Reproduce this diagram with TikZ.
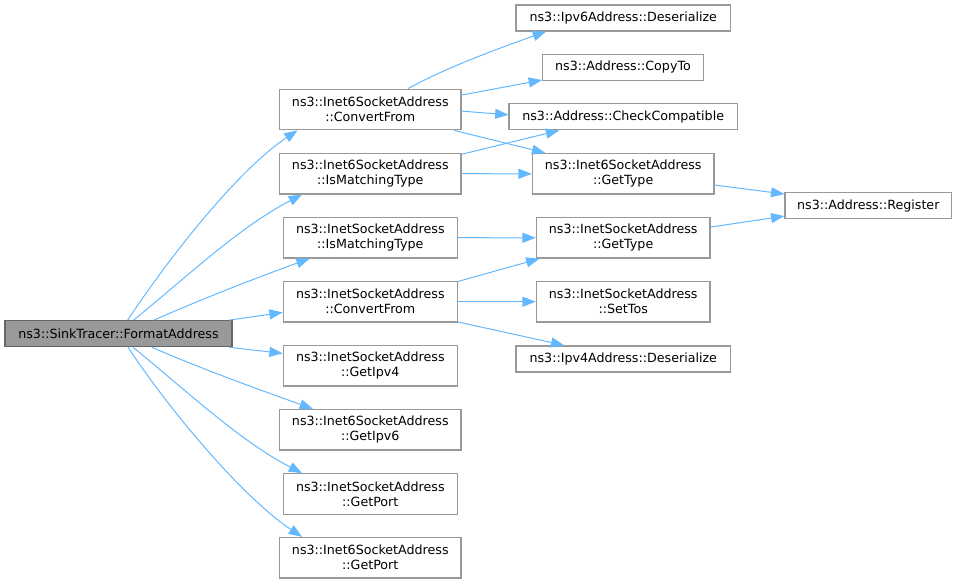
\documentclass[tikz,border=0pt]{standalone}
\usepackage{fontspec}
\setmainfont{DejaVu Sans}
\usetikzlibrary{arrows.meta}
\definecolor{edgeblue}{HTML}{63B8FF}
\definecolor{boxgray}{HTML}{999999}
\definecolor{maingray}{HTML}{999999}
\definecolor{mainborder}{HTML}{666666}
\begin{document}
\begin{tikzpicture}[x=0.75pt,y=-0.75pt,
  box/.style={draw=boxgray, fill=white, line width=0.9pt, inner sep=0pt, align=center,
              font=\fontsize{9.5pt}{11.25pt}\selectfont},
  one/.style={box, minimum height=19.5pt},
  two/.style={box, minimum height=30.4pt},
  mainbox/.style={box, draw=mainborder, fill=maingray, minimum height=19.5pt},
  edge/.style={draw=edgeblue, line width=0.75pt, -{Triangle[length=10pt,width=7.5pt]}}]
\useasboundingbox (0,0) rectangle (957,583);

\node[mainbox, minimum width=170.25pt] (main) at (118.5,333.7) {ns3::SinkTracer::FormatAddress};

\node[two, minimum width=136.1pt] (A1) at (370.3,109.5) {ns3::Inet6SocketAddress\\::ConvertFrom};
\node[two, minimum width=136.1pt] (A2) at (370.3,173.7) {ns3::Inet6SocketAddress\\::IsMatchingType};
\node[two, minimum width=130.5pt] (A3) at (370.3,237.7) {ns3::InetSocketAddress\\::IsMatchingType};
\node[two, minimum width=130.5pt] (A4) at (370.3,301.7) {ns3::InetSocketAddress\\::ConvertFrom};
\node[two, minimum width=130.5pt] (A5) at (370.3,365.7) {ns3::InetSocketAddress\\::GetIpv4};
\node[two, minimum width=136.1pt] (A6) at (370.3,429.8) {ns3::Inet6SocketAddress\\::GetIpv6};
\node[two, minimum width=130.5pt] (A7) at (370.3,494) {ns3::InetSocketAddress\\::GetPort};
\node[two, minimum width=136.1pt] (A8) at (370.3,557.7) {ns3::Inet6SocketAddress\\::GetPort};

\node[one, minimum width=161pt] (B1) at (623.3,17.9) {ns3::Ipv6Address::Deserialize};
\node[one, minimum width=120.5pt] (B2) at (623,67.2) {ns3::Address::CopyTo};
\node[one, minimum width=171.2pt] (B3) at (623.2,116.8) {ns3::Address::CheckCompatible};
\node[two, minimum width=136.3pt] (B4) at (623.2,173.8) {ns3::Inet6SocketAddress\\::GetType};
\node[two, minimum width=130.3pt] (B5) at (623.2,237.8) {ns3::InetSocketAddress\\::GetType};
\node[two, minimum width=130.3pt] (B6) at (623.2,301.7) {ns3::InetSocketAddress\\::SetTos};
\node[one, minimum width=161pt] (B7) at (623.3,359) {ns3::Ipv4Address::Deserialize};
\node[one, minimum width=125pt] (C1) at (868.3,205.8) {ns3::Address::Register};

\draw[edge] (main.56.8) .. controls +(44,-66.4) and +(-58.1,38.5) .. (A1.196.6);
\draw[edge] (main.42.5) .. controls +(54,-44) and +(-62,32) .. (A2.197.2);
\draw[edge] (main.21.4) .. controls +(50,-22) and +(-50,18) .. (A3.199.1);
\draw[edge] (main.7.3) -- (A4.187.6);
\draw[edge] (main.-7.4) -- (A5.172.3);
\draw[edge] (main.-22) .. controls +(50,22) and +(-50,-18) .. (A6.160.9);
\draw[edge] (main.-43.3) .. controls +(54,44) and +(-62,-32) .. (A7.163.2);
\draw[edge] (main.-55.9) .. controls +(44,66.4) and +(-58.1,-38.5) .. (A8.163.9);

\draw[edge] (A1.29.3) .. controls +(40,-22) and +(-45,16) .. (B1.190);
\draw[edge] (A1.9.5) -- (B2.189);
\draw[edge] (A1.-1.6) -- (B3.179.6);
\draw[edge] (A1.-14.2) -- (B4.165.6);
\draw[edge] (A2.12) -- (B3.192.1);
\draw[edge] (A2.0) -- (B4.180);
\draw[edge] (B4.-7.5) -- (C1.172.6);
\draw[edge] (A3.0) -- (B5.180);
\draw[edge] (A4.13.5) -- (B5.194);
\draw[edge] (A4.0) -- (B6.180);
\draw[edge] (A4.-13) -- (B7.167.1);
\draw[edge] (B5.7.7) -- (C1.187.4);
\end{tikzpicture}
\end{document}
